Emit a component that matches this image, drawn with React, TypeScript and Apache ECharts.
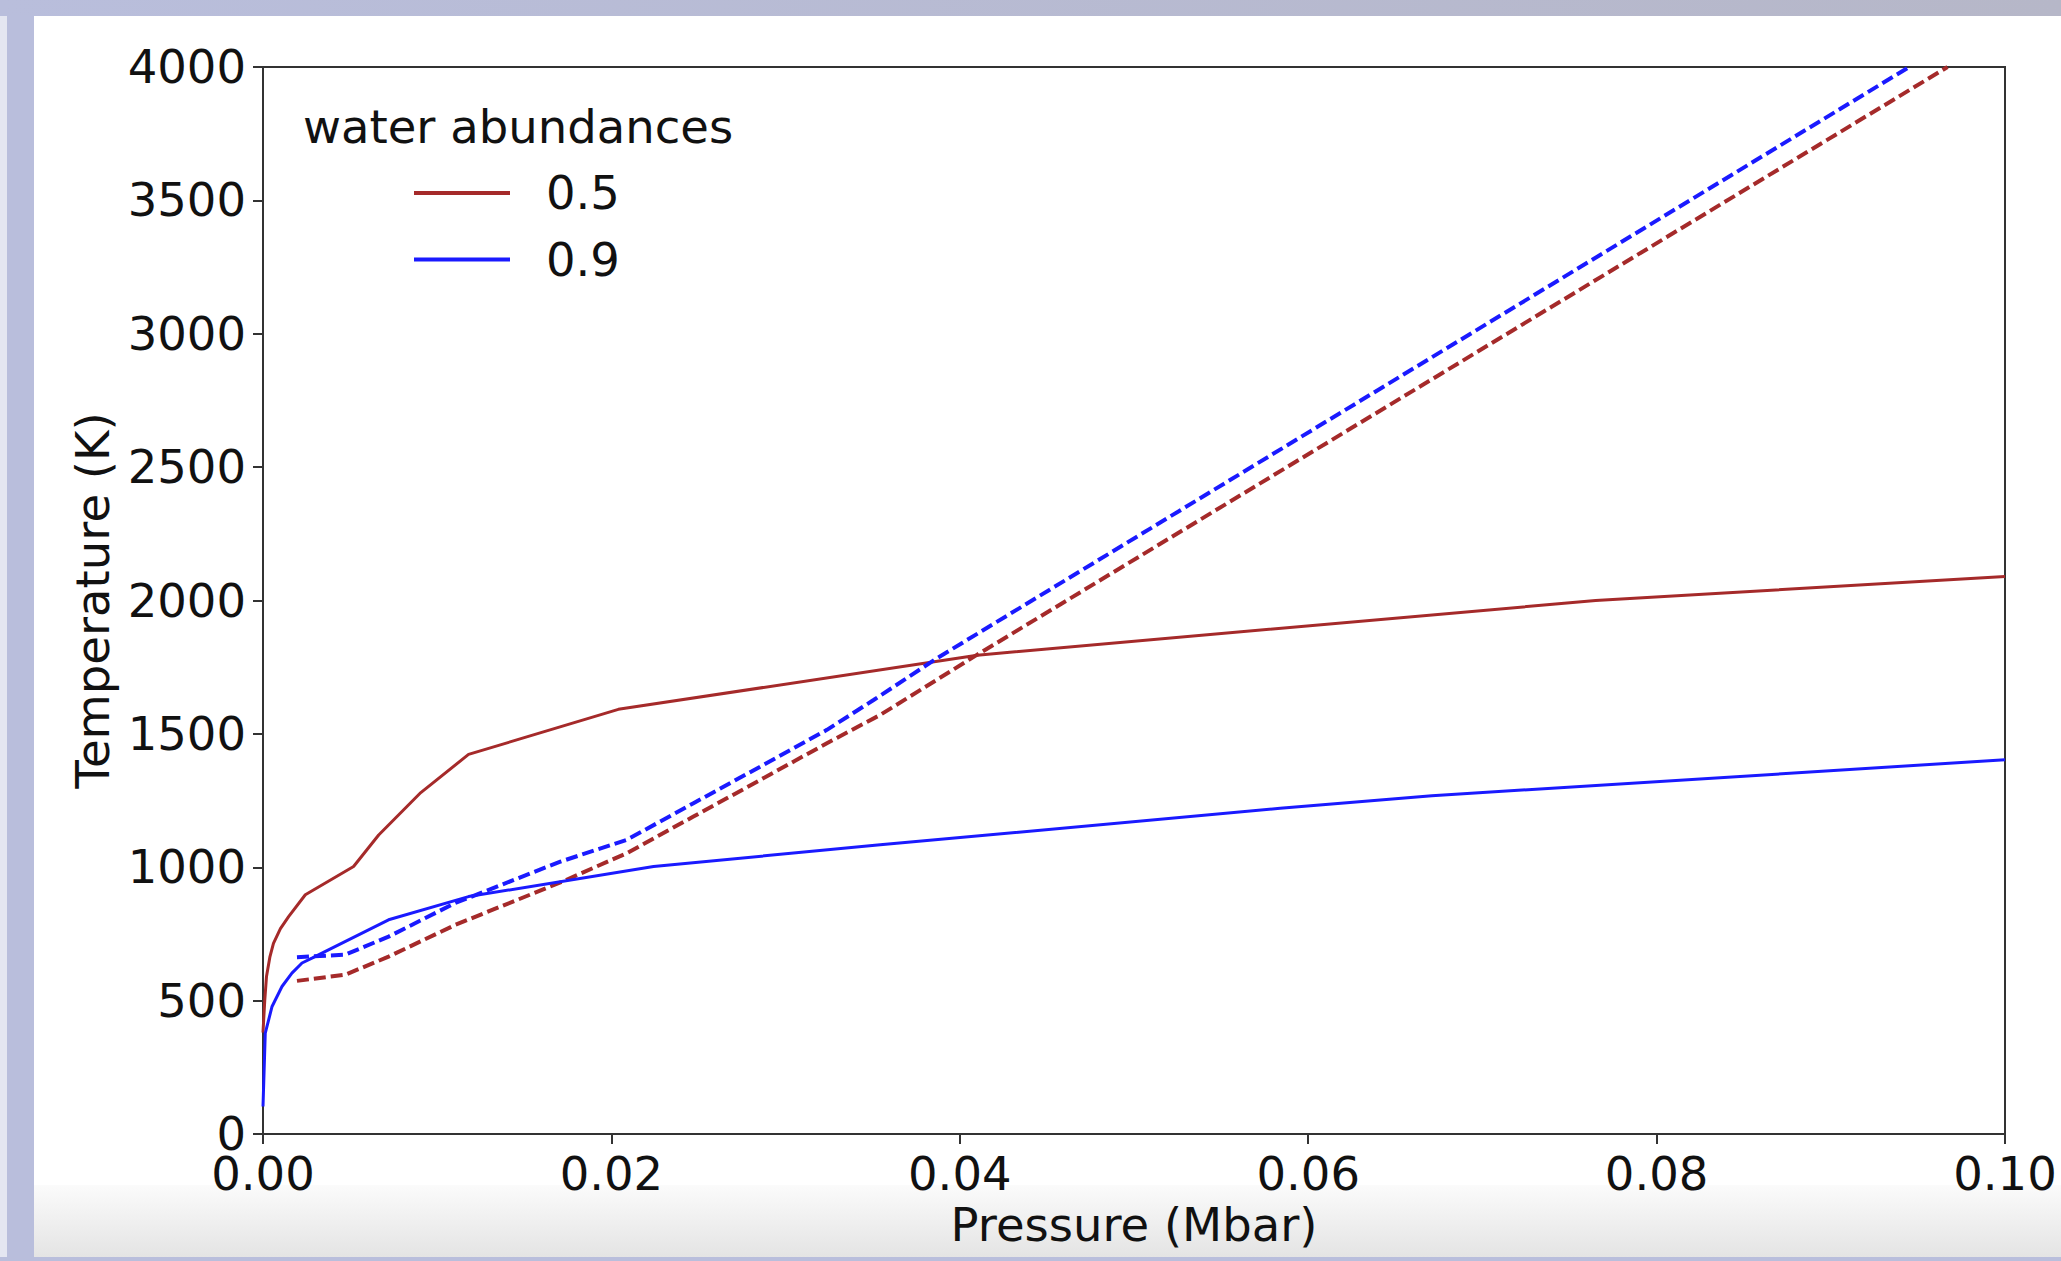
import React, { useEffect, useRef } from "react";
import * as echarts from "echarts";

// Pressure (Mbar) / Temperature (K)
const redSolidP = [0, 0.00004, 0.0001, 0.0002, 0.0004, 0.0006, 0.001, 0.00147, 0.00243, 0.0052, 0.00664, 0.00906, 0.0118, 0.0204, 0.041, 0.0765, 0.1];
const redSolidT = [380, 430, 500, 590, 665, 715, 770, 815, 897, 1003, 1121, 1280, 1423, 1592, 1795, 2000, 2090];

const blueSolidP = [0, 0.00013, 0.00052, 0.00109, 0.00166, 0.00224, 0.00281, 0.00721, 0.0118, 0.02242, 0.03543, 0.05839, 0.0671, 0.1];
const blueSolidT = [103, 378, 478, 553, 603, 641, 659, 803, 890, 1003, 1084, 1221, 1268, 1403];

const redDashedP = [0.00195, 0.00472, 0.00721, 0.01104, 0.01707, 0.02089, 0.02471, 0.02854, 0.03237, 0.03543, 0.04098, 0.0967];
const redDashedT = [574, 597, 665, 784, 943, 1053, 1190, 1327, 1465, 1571, 1796, 4000];

const blueDashedP = [0.00195, 0.00472, 0.00721, 0.01104, 0.01707, 0.02089, 0.02471, 0.02854, 0.03237, 0.03505, 0.03868, 0.0945];
const blueDashedT = [663, 672, 740, 866, 1021, 1103, 1240, 1377, 1515, 1627, 1783, 4000];

const legendNames = ["0.5", "0.9"];
const legendTitle = "water abundances";
const xName = "Pressure (Mbar)";
const yName = "Temperature (K)";

const RED = "#a52a2a";
const BLUE = "#1a1aff";
const FONT = "DejaVu Sans";
const FS = 46.5;
const TXT = "#111111";

function pairs(xs: number[], ys: number[]) {
  return xs.map((x, i) => [x, ys[i]]);
}

export default function App() {
  const ref = useRef<HTMLDivElement>(null);
  useEffect(() => {
    const chart = echarts.init(ref.current!, null, { renderer: "svg" });
    const lav = "#b9bedc";
    chart.setOption({
      animation: false,
      backgroundColor: "#ffffff",
      graphic: [
        { type: "rect", z: -10, silent: true, shape: { x: 0, y: 0, width: 2061, height: 16 },
          style: { fill: new echarts.graphic.LinearGradient(0, 0, 1, 0, [{ offset: 0, color: "#b9bedc" }, { offset: 1, color: "#b6b7c8" }]) } },
        { type: "rect", z: -10, silent: true, shape: { x: 0, y: 16, width: 7, height: 1245 }, style: { fill: "#e4e6f1" } },
        { type: "rect", z: -10, silent: true, shape: { x: 7, y: 16, width: 27, height: 1245 }, style: { fill: lav } },
        { type: "rect", z: -10, silent: true, shape: { x: 34, y: 1185, width: 2027, height: 72 },
          style: { fill: new echarts.graphic.LinearGradient(0, 0, 0, 1, [{ offset: 0, color: "#fbfbfb" }, { offset: 1, color: "#e4e4e4" }]) } },
        { type: "rect", z: -10, silent: true, shape: { x: 0, y: 1257, width: 2061, height: 4 }, style: { fill: lav } },
      ],
      title: {
        text: legendTitle,
        left: 303,
        top: 102,
        padding: 0,
        textStyle: { fontFamily: FONT, fontSize: FS, fontWeight: "normal", color: TXT, lineHeight: 50 },
      },
      legend: {
        data: legendNames,
        orient: "vertical",
        left: 414,
        top: 168,
        padding: 0,
        itemGap: 16.6,
        itemWidth: 96,
        itemHeight: 4,
        icon: "rect",
        selectedMode: false,
        textStyle: { fontFamily: FONT, fontSize: FS, color: TXT, lineHeight: 50, padding: [0, 0, 0, 31] },
      },
      grid: { left: 263, right: 56, top: 67, bottom: 127, show: true, borderColor: "#333333", borderWidth: 2, backgroundColor: "transparent" },
      xAxis: {
        type: "value",
        min: 0,
        max: 0.1,
        interval: 0.02,
        name: xName,
        nameLocation: "middle",
        nameGap: 55,
        nameTextStyle: { fontFamily: FONT, fontSize: FS, color: TXT },
        axisLine: { show: true, onZero: false, lineStyle: { color: "#333333", width: 2 } },
        axisTick: { show: true, length: 10, lineStyle: { color: "#333333", width: 2 } },
        axisLabel: { margin: 16, fontFamily: FONT, fontSize: FS, color: TXT, formatter: (v: number) => v.toFixed(2) },
        splitLine: { show: false },
      },
      yAxis: {
        type: "value",
        min: 0,
        max: 4000,
        interval: 500,
        name: yName,
        nameLocation: "middle",
        nameGap: 136,
        nameRotate: 90,
        nameTextStyle: { fontFamily: FONT, fontSize: FS, color: TXT },
        axisLine: { show: true, onZero: false, lineStyle: { color: "#333333", width: 2 } },
        axisTick: { show: true, length: 10, lineStyle: { color: "#333333", width: 2 } },
        axisLabel: { margin: 17, fontFamily: FONT, fontSize: FS, color: TXT, formatter: (v: number) => String(v) },
        splitLine: { show: false },
      },
      series: [
        { name: "0.5", type: "line", color: RED, data: pairs(redSolidP, redSolidT), symbol: "none", showSymbol: false, lineStyle: { width: 3, color: RED }, z: 2 },
        { name: "0.5 dashed", type: "line", color: RED, data: pairs(redDashedP, redDashedT), symbol: "none", showSymbol: false, lineStyle: { width: 4, color: RED, type: [12, 5] }, z: 2 },
        { name: "0.9", type: "line", color: BLUE, data: pairs(blueSolidP, blueSolidT), symbol: "none", showSymbol: false, lineStyle: { width: 3, color: BLUE }, z: 3 },
        { name: "0.9 dashed", type: "line", color: BLUE, data: pairs(blueDashedP, blueDashedT), symbol: "none", showSymbol: false, lineStyle: { width: 4, color: BLUE, type: [12, 5] }, z: 3 },
      ],
    });
    return () => chart.dispose();
  }, []);
  return <div ref={ref} style={{ position: "fixed", left: 0, top: 0, width: 2061, height: 1261 }} />;
}
